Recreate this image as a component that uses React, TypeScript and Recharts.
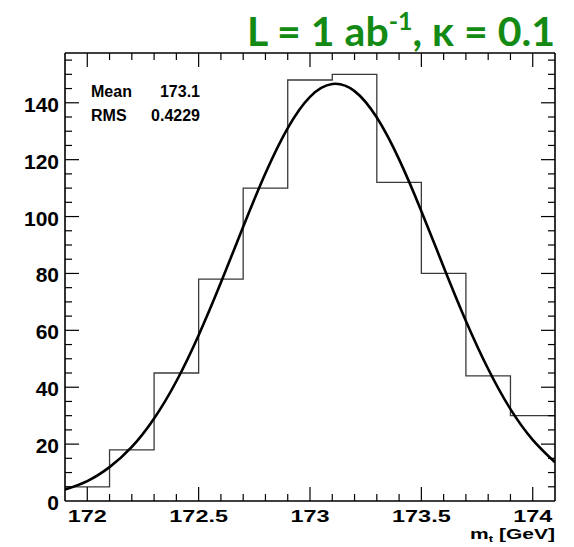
import React from "react";
import { ComposedChart, Line, XAxis, YAxis } from "recharts";

// histogram: lower bin edges (last entry closes the final bin)
const binEdges = [171.9, 172.1, 172.3, 172.5, 172.7, 172.9, 173.1, 173.3, 173.5, 173.7, 173.9, 174.1];
const binCounts = [5, 18, 45, 78, 110, 148, 150, 112, 80, 44, 30, 30];

// fitted gaussian
const fitX = [
  171.9, 172.0, 172.1, 172.2, 172.3, 172.4, 172.5, 172.6, 172.7, 172.8, 172.9, 173.0,
  173.1, 173.2, 173.3, 173.4, 173.5, 173.6, 173.7, 173.8, 173.9, 174.0, 174.1,
];
const fitY = [
  4.0, 7.0, 11.9, 19.0, 29.0, 42.1, 58.3, 76.8, 96.4, 115.2, 131.1, 142.1,
  146.6, 144.1, 134.8, 120.1, 101.9, 82.3, 63.3, 46.4, 32.3, 21.5, 13.6,
];

const xMajor = [172, 172.5, 173, 173.5, 174];
const xTicks = [
  172.0, 172.1, 172.2, 172.3, 172.4, 172.5, 172.6, 172.7, 172.8, 172.9, 173.0,
  173.1, 173.2, 173.3, 173.4, 173.5, 173.6, 173.7, 173.8, 173.9, 174.0,
];
const yMajor = [0, 20, 40, 60, 80, 100, 120, 140];
const yTicks = [
  5, 10, 15, 20, 25, 30, 35, 40, 45, 50, 55, 60, 65, 70, 75, 80,
  85, 90, 95, 100, 105, 110, 115, 120, 125, 130, 135, 140, 145, 150, 155,
];

const histData = binEdges.map((x, i) => ({ x, count: binCounts[i] }));
const fitData = fitX.map((x, i) => ({ x, fit: fitY[i] }));

const FONT = "'Liberation Sans', Arial, Helvetica, sans-serif";

type Side = "bottom" | "top" | "left" | "right";

// ROOT-style ticks: drawn inward, labels outside the frame
const makeTick = (side: Side, majors: number[]) => (props: any) => {
  const { x, y, payload } = props;
  const v = payload.value;
  const major = majors.includes(v);
  const len = major ? 14 : 7;
  if (side === "bottom") {
    return (
      <g>
        <line x1={x} y1={y} x2={x} y2={y - len} stroke="#000" strokeWidth={1.2} />
        {major && (
          <text
            transform={`translate(${x},${y + 21}) scale(1.42,1)`}
            textAnchor="middle"
            fontFamily={FONT}
            fontWeight="bold"
            fontSize={16.5}
            fill="#000"
          >
            {v}
          </text>
        )}
      </g>
    );
  }
  if (side === "top") {
    return <line x1={x} y1={y} x2={x} y2={y + len} stroke="#000" strokeWidth={1.2} />;
  }
  if (side === "left") {
    return (
      <g>
        {v !== 0 && <line x1={x} y1={y} x2={x + len} y2={y} stroke="#000" strokeWidth={1.2} />}
        {major && (
          <text
            x={x - 6}
            y={y + 9}
            textAnchor="end"
            fontFamily={FONT}
            fontWeight="bold"
            fontSize={21}
            fill="#000"
          >
            {v}
          </text>
        )}
      </g>
    );
  }
  return <line x1={x} y1={y} x2={x - len} y2={y} stroke="#000" strokeWidth={1.2} />;
};

const frame = { stroke: "#000", strokeWidth: 1.6 };

export default function App() {
  return (
    <div style={{ position: "absolute", left: 0, top: 0, width: 574, height: 547, background: "#fff" }}>
      <ComposedChart
        width={574}
        height={547}
        margin={{ top: 52, right: 18, bottom: 45, left: 64 }}
      >
        <XAxis
          xAxisId="b"
          dataKey="x"
          type="number"
          domain={[171.9, 174.1]}
          allowDataOverflow
          ticks={xTicks}
          interval={0}
          height={1}
          tickSize={0}
          tickMargin={0}
          tickLine={false}
          axisLine={frame}
          tick={makeTick("bottom", xMajor)}
        />
        <XAxis
          xAxisId="t"
          orientation="top"
          dataKey="x"
          type="number"
          domain={[171.9, 174.1]}
          allowDataOverflow
          ticks={xTicks}
          interval={0}
          height={1}
          tickSize={0}
          tickMargin={0}
          tickLine={false}
          axisLine={frame}
          tick={makeTick("top", xMajor)}
        />
        <YAxis
          yAxisId="l"
          type="number"
          domain={[0, 157.5]}
          allowDataOverflow
          ticks={[0, ...yTicks]}
          interval={0}
          width={1}
          tickSize={0}
          tickMargin={0}
          tickLine={false}
          axisLine={frame}
          tick={makeTick("left", yMajor)}
        />
        <YAxis
          yAxisId="r"
          orientation="right"
          type="number"
          domain={[0, 157.5]}
          allowDataOverflow
          ticks={yTicks}
          interval={0}
          width={1}
          tickSize={0}
          tickMargin={0}
          tickLine={false}
          axisLine={frame}
          tick={makeTick("right", yMajor)}
        />
        <Line
          xAxisId="b"
          yAxisId="l"
          data={histData}
          dataKey="count"
          type="stepAfter"
          stroke="#3a3a3a"
          strokeWidth={1.3}
          dot={false}
          activeDot={false}
          isAnimationActive={false}
        />
        <Line
          xAxisId="b"
          yAxisId="l"
          data={fitData}
          dataKey="fit"
          type="natural"
          stroke="#000"
          strokeWidth={2.6}
          dot={false}
          activeDot={false}
          isAnimationActive={false}
        />
      </ComposedChart>
      <svg
        width={574}
        height={547}
        style={{ position: "absolute", left: 0, top: 0, pointerEvents: "none" }}
      >
        <text
          x={555}
          y={46}
          textAnchor="end"
          fontFamily="Lato, 'Open Sans', sans-serif"
          fontWeight="bold"
          fontSize={41}
          fill="#138a13"
        >
          L = 1 ab
          <tspan fontSize={25} dy={-16}>-1</tspan>
          <tspan dy={16}>, κ = 0.1</tspan>
        </text>
        <g fontFamily={FONT} fontWeight="bold" fontSize={16} fill="#000">
          <text x={91} y={97}>Mean</text>
          <text x={200} y={97} textAnchor="end">173.1</text>
          <text x={91} y={120.5}>RMS</text>
          <text x={200} y={120.5} textAnchor="end">0.4229</text>
        </g>
        <text
          transform="translate(555,539) scale(1.45,1)"
          textAnchor="end"
          fontFamily={FONT}
          fontWeight="bold"
          fontSize={14.5}
          fill="#000"
        >
          m
          <tspan fontSize={9} dy={3}>t</tspan>
          <tspan dy={-3}> [GeV]</tspan>
        </text>
      </svg>
    </div>
  );
}
